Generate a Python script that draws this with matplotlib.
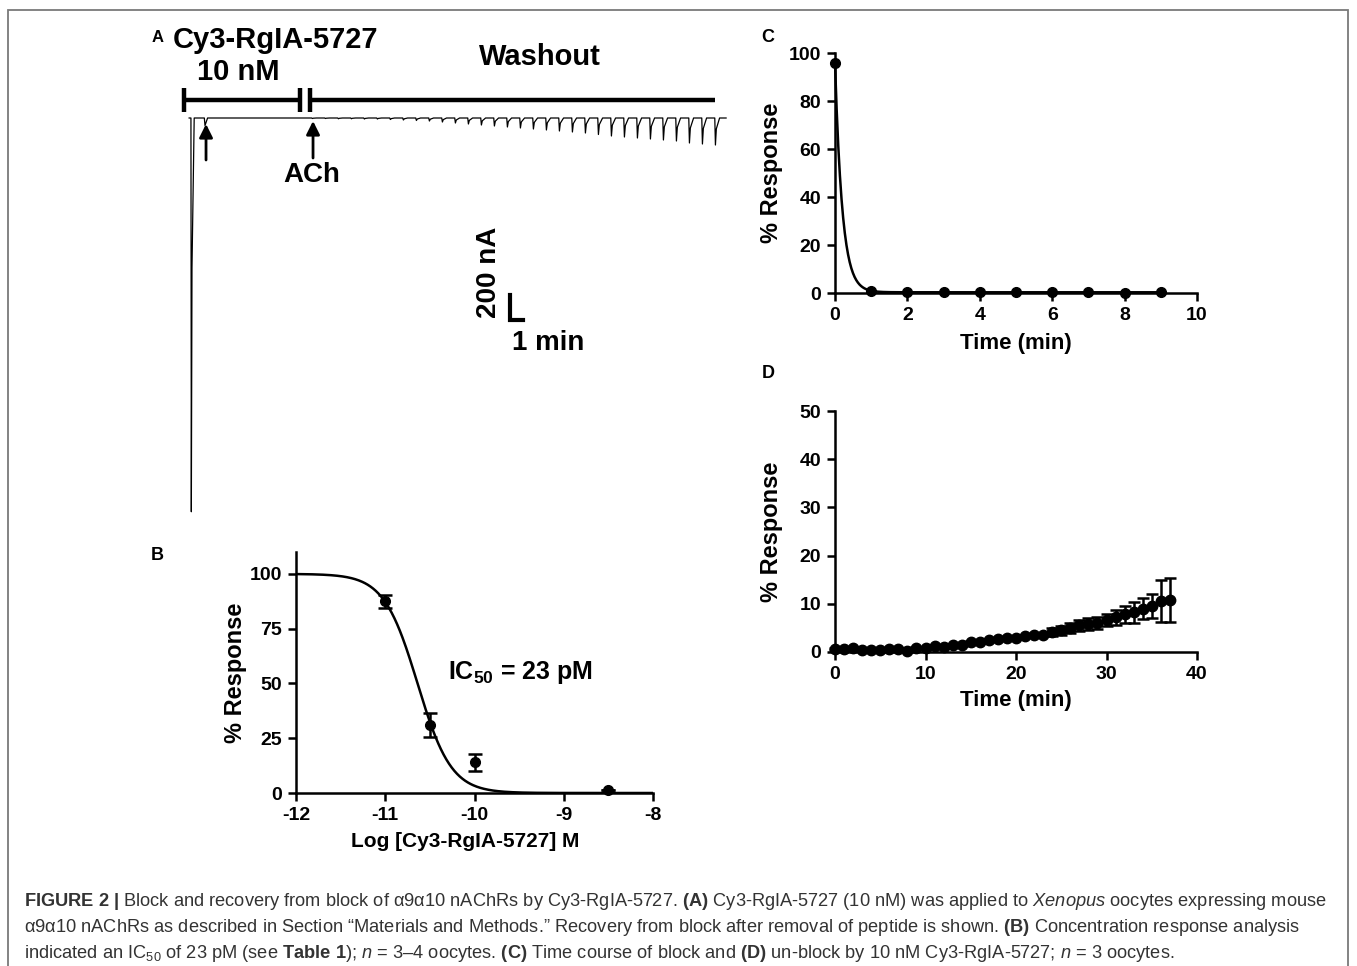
import numpy as np
import matplotlib
matplotlib.use('Agg')
import matplotlib.pyplot as plt
from matplotlib.patches import Rectangle

plt.rcParams['font.family'] = ['Liberation Sans', 'DejaVu Sans']
plt.rcParams['mathtext.fontset'] = 'custom'
plt.rcParams['mathtext.rm'] = 'Liberation Sans'
plt.rcParams['mathtext.it'] = 'Liberation Sans:italic'
plt.rcParams['mathtext.bf'] = 'Liberation Sans:bold'
plt.rcParams['axes.unicode_minus'] = False

W, H = 1357, 966

# ---- data A: strömspår (tid i min, ström i nA) ----
kontroll_t = -9.31      # ACh-puls innan toxin
kontroll_I = -3150
toxin_t = -8.23         # ACh-puls i 10 nM Cy3-RgIA-5727
toxin_I = -60
puls_t = list(range(32))   # ACh-pulser under washout
puls_I = [-4, -4, -6, -6, -8, -8, -12, -16, -20, -24, -32, -40, -48, -56,
          -64, -72, -80, -88, -96, -104, -112, -120, -132, -144, -152, -160,
          -168, -176, -184, -200, -208, -216]

# ---- data B: koncentration-respons ----
logdos = [-11, -10.5, -10, -8.5]
svar_b = [87.5, 31, 14, 1.5]
sem_b = [3, 5.5, 3.8, 0]
IC50 = 23e-12
hill = 2.3

# ---- data C: blockering ----
tid_c = [0, 1, 2, 3, 4, 5, 6, 7, 8, 9]
svar_c = [96, 1.0, 0.4, 0.4, 0.4, 0.4, 0.3, 0.3, 0.2, 0.3]
c_start, c_platta, c_k = 96, 0.3, 5.0

# ---- data D: återhämtning ----
tid_d = list(range(38))
svar_d = [0.7, 0.6, 0.8, 0.5, 0.4, 0.5, 0.6, 0.6, 0.3, 0.8, 0.9, 1.2, 1.1, 1.4,
          1.4, 2.0, 2.1, 2.4, 2.6, 3.0, 3.0, 3.3, 3.6, 3.6, 4.2, 4.5, 5.0, 5.5,
          5.8, 6.0, 6.6, 7.2, 7.8, 8.2, 9.0, 9.5, 10.6, 10.8]
sem_d = [0.2] * 24 + [0.8, 0.9, 1.0, 1.1, 1.2, 1.2, 1.3, 1.5, 1.7, 2.1, 2.1,
                      2.5, 4.4, 4.6]


def px(x, y):
    # pixel i bilden -> figurkoordinater
    return x / W, 1 - y / H


def prism(ax, fs=14):
    # GraphPad-liknande axlar
    for s in ['top', 'right']:
        ax.spines[s].set_visible(False)
    for s in ['left', 'bottom']:
        ax.spines[s].set_linewidth(1.8)
    ax.tick_params(width=1.8, length=6, labelsize=fs, direction='out', pad=4)
    for lab in ax.get_xticklabels() + ax.get_yticklabels():
        lab.set_fontweight('bold')


fig = plt.figure(figsize=(W / 100, H / 100), dpi=100)

# ---- A ----
axA = fig.add_axes([160 / W, 1 - 520 / H, 580 / W, 500 / H])
axA.set_xlim(-11.69, 32.92)
axA.set_ylim(-3216, 784)
axA.axis('off')

t = [-9.45, kontroll_t, kontroll_t + 0.03, kontroll_t + 0.08, kontroll_t + 0.25,
     toxin_t - 0.05, toxin_t, toxin_t + 0.2]
I = [0, 0, kontroll_I, -1200, 0, 0, toxin_I, 0]
for pt, pi in zip(puls_t, puls_I):
    t += [pt - 0.02, pt + 0.03, pt + 0.1, pt + 0.35]
    I += [0, pi, pi * 0.4, 0]
t.append(31.85)
I.append(0)
axA.plot(t, I, color='black', lw=0.9)

# staplar för applicering
axA.plot([-9.85, -0.92], [144, 144], color='black', lw=3.2, solid_capstyle='butt')
axA.plot([-0.15, 31.0], [144, 144], color='black', lw=3.2, solid_capstyle='butt')
for x in [-9.85, -0.92, -0.15]:
    axA.plot([x, x], [48, 240], color='black', lw=3.2, solid_capstyle='butt')

# pilar
for x, y0, y1 in [(-8.15, -336, -48), (0.08, -320, -24)]:
    axA.annotate('', xy=(x, y1), xytext=(x, y0),
                 arrowprops=dict(arrowstyle='-|>', color='black', lw=2,
                                 mutation_scale=20, shrinkA=0, shrinkB=0))

# skalstreck 1 min / 200 nA
axA.plot([15.23, 15.23, 16.23], [-1416, -1616, -1616], color='black', lw=3,
         solid_joinstyle='miter')

fig.text(*px(152, 38), 'A', fontsize=12, fontweight='bold', ha='left', va='center')
fig.text(*px(275, 40), 'Cy3-RgIA-5727', fontsize=21, fontweight='bold', ha='center', va='center')
fig.text(*px(238, 72), '10 nM', fontsize=21, fontweight='bold', ha='center', va='center')
fig.text(*px(540, 57), 'Washout', fontsize=21, fontweight='bold', ha='center', va='center')
fig.text(*px(312, 175), 'ACh', fontsize=20, fontweight='bold', ha='center', va='center')
fig.text(*px(489, 272), '200 nA', fontsize=20, fontweight='bold', ha='center', va='center', rotation=90)
fig.text(*px(548, 343), '1 min', fontsize=20, fontweight='bold', ha='center', va='center')

# ---- B ----
axB = fig.add_axes([296 / W, 1 - 793 / H, 357 / W, 241 / H])
xf = np.linspace(-12, -8, 400)
yf = 100 / (1 + 10 ** ((xf - np.log10(IC50)) * hill))
axB.plot(xf, yf, color='black', lw=1.8)
axB.errorbar(logdos, svar_b, yerr=sem_b, fmt='o', color='black', ms=7,
             elinewidth=1.8, capsize=5, capthick=1.8, clip_on=False)
axB.set_xlim(-12, -8)
axB.set_ylim(0, 110)
axB.set_xticks([-12, -11, -10, -9, -8])
axB.set_yticks([0, 25, 50, 75, 100])
prism(axB)
axB.set_xlabel('Log [Cy3-RgIA-5727] M', fontsize=15, fontweight='bold')
axB.set_ylabel('% Response', fontsize=17, fontweight='bold')
axB.xaxis.set_label_coords(0.475, -0.16)
axB.yaxis.set_label_coords(-0.137, 0.5)
fig.text(*px(521, 673), r'IC$_{\mathbf{50}}$ = 23 pM', fontsize=18, fontweight='bold',
         ha='center', va='center')
fig.text(*px(157, 556), 'B', fontsize=13, fontweight='bold', ha='center', va='center')

# ---- C ----
axC = fig.add_axes([835 / W, 1 - 293 / H, 362 / W, 240 / H])
tc = np.linspace(0, 9, 400)
axC.plot(tc, (c_start - c_platta) * np.exp(-c_k * tc) + c_platta, color='black', lw=1.8,
         clip_on=False)
axC.plot(tid_c, svar_c, 'o', color='black', ms=7, clip_on=False)
axC.set_xlim(0, 10)
axC.set_ylim(0, 100)
axC.set_xticks(range(0, 11, 2))
axC.set_yticks(range(0, 101, 20))
prism(axC)
axC.set_xlabel('Time (min)', fontsize=16, fontweight='bold')
axC.set_ylabel('% Response', fontsize=17, fontweight='bold')
axC.xaxis.set_label_coords(0.5, -0.167)
axC.yaxis.set_label_coords(-0.144, 0.5)
fig.text(*px(768, 37), 'C', fontsize=13, fontweight='bold', ha='center', va='center')

# ---- D ----
axD = fig.add_axes([835 / W, 1 - 652 / H, 362 / W, 241 / H])
axD.errorbar(tid_d, svar_d, yerr=sem_d, fmt='o', color='black', ms=7.5,
             elinewidth=1.8, capsize=4, capthick=1.8, clip_on=False)
axD.set_xlim(0, 40)
axD.set_ylim(0, 50)
axD.set_xticks(range(0, 41, 10))
axD.set_yticks(range(0, 51, 10))
prism(axD)
axD.set_xlabel('Time (min)', fontsize=16, fontweight='bold')
axD.set_ylabel('% Response', fontsize=17, fontweight='bold')
axD.xaxis.set_label_coords(0.5, -0.158)
axD.yaxis.set_label_coords(-0.144, 0.5)
fig.text(*px(768, 373), 'D', fontsize=13, fontweight='bold', ha='center', va='center')

# ---- ram och figurtext ----
fig.add_artist(Rectangle(px(8, 975), (1348 - 8) / W, (975 - 10) / H,
                         transform=fig.transFigure, fill=False,
                         edgecolor='#7a7a7a', lw=1.3))

rader = [
    r'$\mathbf{FIGURE\ 2\ |}$ Block and recovery from block of α9α10 nAChRs by Cy3-RgIA-5727. '
    r'$\mathbf{(A)}$ Cy3-RgIA-5727 (10 nM) was applied to $\mathit{Xenopus}$ oocytes expressing mouse',
    r'α9α10 nAChRs as described in Section “Materials and Methods.” Recovery from block after '
    r'removal of peptide is shown. $\mathbf{(B)}$ Concentration response analysis',
    r'indicated an IC$_{50}$ of 23 pM (see $\mathbf{Table\ 1}$); $\mathit{n}$ = 3–4 oocytes. '
    r'$\mathbf{(C)}$ Time course of block and $\mathbf{(D)}$ un-block by 10 nM Cy3-RgIA-5727; '
    r'$\mathit{n}$ = 3 oocytes.',
]
texter = []
for rad, y in zip(rader, [902, 928, 953]):
    texter.append(fig.text(*px(24, y), rad, fontsize=12, color='#333333',
                           ha='left', va='center'))

# anpassa storleken så att första raden fyller bredden
r = fig.canvas.get_renderer()
bredd = texter[0].get_window_extent(r).width
fs = 12 * 1299 / bredd
for tx in texter:
    tx.set_fontsize(fs)

fig.savefig('out.png', dpi=100)
